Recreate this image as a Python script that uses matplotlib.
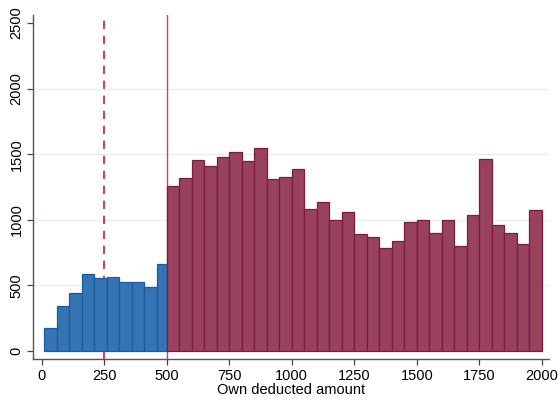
import numpy as np
import matplotlib
matplotlib.use("Agg")
import matplotlib.pyplot as plt

plt.rcParams['font.family'] = ['Liberation Sans', 'DejaVu Sans']

bin_width = 50
blue_start = 10
blue_counts = [175, 343, 443, 585, 554, 567, 526, 524, 488, 664]
red_start = 500
red_counts = [1256, 1317, 1455, 1409, 1478, 1516, 1447, 1546, 1312, 1325,
              1386, 1081, 1137, 999, 1061, 890, 867, 786, 842, 984,
              997, 898, 997, 801, 1035, 1460, 961, 903, 814, 1078]
xticks = [0, 250, 500, 750, 1000, 1250, 1500, 1750, 2000]
yticks = [0, 500, 1000, 1500, 2000, 2500]
dashed_line = 250
solid_line = 500
xlabel = "Own deducted amount"

fig = plt.figure(figsize=(5.58, 4.0), dpi=100)
ax = fig.add_axes([0.0597, 0.1018, 0.9243, 0.8607])

blue_left = blue_start + bin_width * np.arange(len(blue_counts))
red_left = red_start + bin_width * np.arange(len(red_counts))

for g in [500, 1000, 1500, 2000]:
    ax.axhline(g, color='#e6eef0', lw=1.0, zorder=0)

ax.axvline(dashed_line, color='#dc143c', lw=1.2, ls=(0, (5, 4)), zorder=1)
ax.axvline(solid_line, color='#dc3c60', lw=1.0, zorder=1)

ax.bar(blue_left, blue_counts, width=bin_width, align='edge',
       color='#3574b3', edgecolor='#1a59a6', linewidth=0.9, zorder=2)
ax.bar(red_left, red_counts, width=bin_width, align='edge',
       color='#99425e', edgecolor='#7d1a40', linewidth=0.9, zorder=3)

ax.set_xlim(-33, 2029)
ax.set_ylim(-63, 2561)
ax.set_xticks(xticks)
ax.set_yticks(yticks)
ax.set_yticklabels([str(v) for v in yticks], rotation=90, va='center')
ax.tick_params(axis='both', labelsize=10.5, length=4, width=0.9, color='#444444')
ax.tick_params(axis='y', pad=3)
ax.tick_params(axis='x', pad=3)
ax.set_xlabel(xlabel, fontsize=10.5, labelpad=0)

for s in ['top', 'right']:
    ax.spines[s].set_visible(False)
for s in ['left', 'bottom']:
    ax.spines[s].set_color('#555555')
    ax.spines[s].set_linewidth(1.0)

fig.savefig("out.png", dpi=100)
